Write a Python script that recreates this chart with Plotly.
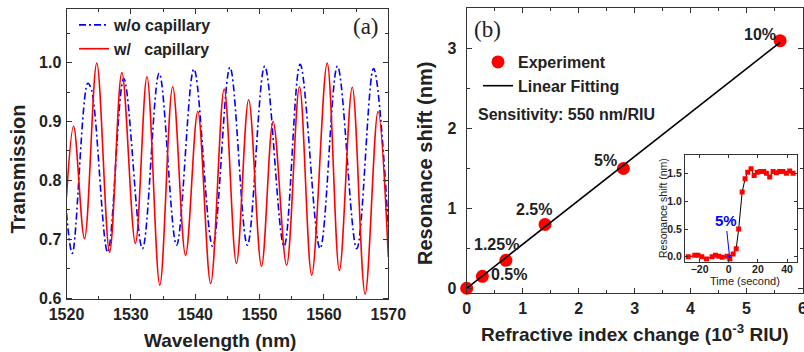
import plotly.graph_objects as go

# ---------------- Panel (a): transmission spectra (extrema)
wl_without = [1520.0, 1520.9, 1523.3, 1523.9, 1526.4, 1528.9, 1531.8, 1534.4, 1537.1, 1539.8,
              1542.7, 1545.4, 1548.1, 1550.8, 1553.8, 1556.3, 1559.4, 1562.1, 1565.1, 1567.7, 1570.0]
tr_without = [0.744, 0.676, 0.965, 0.953, 0.678, 0.973, 0.684, 0.982, 0.690, 0.989,
              0.688, 0.992, 0.690, 0.994, 0.688, 0.997, 0.684, 0.994, 0.684, 0.990, 0.721]

wl_with = [1520.0, 1521.1, 1522.8, 1524.7, 1526.7, 1528.6, 1530.7, 1532.5, 1534.5, 1536.5,
           1538.5, 1540.4, 1542.4, 1544.5, 1546.4, 1548.3, 1550.3, 1552.1, 1554.2, 1556.2,
           1558.1, 1560.5, 1562.4, 1564.4, 1566.4, 1568.4, 1570.0]
tr_with = [0.772, 0.892, 0.701, 0.999, 0.678, 0.983, 0.693, 0.976, 0.622, 0.959,
           0.673, 0.917, 0.625, 0.955, 0.659, 0.937, 0.654, 0.900, 0.656, 0.959,
           0.639, 0.999, 0.647, 0.958, 0.607, 0.917, 0.670]

# ---------------- Panel (b): resonance shift vs refractive index change
ri_change = [0.0, 0.28, 0.7, 1.4, 2.8, 5.6]          # 10^-3 RIU
res_shift = [0.0, 0.15, 0.35, 0.8, 1.5, 3.1]         # nm
conc_labels = ["", "0.5%", "1.25%", "2.5%", "5%", "10%"]
fit_x = [0.0, 5.6]
fit_y = [0.0, 3.08]

# ---------------- Inset: time response for 5%
time_s = [-27.8, -23.3, -21.2, -18.5, -15.3, -11.4, -9.1, -6.8, -4.5, -1.1, 0.7, 3.0, 5.1, 6.8,
          9.2, 11.2, 13.0, 15.3, 17.4, 19.5, 21.7, 24.0, 25.8, 28.1, 30.4, 32.7, 34.9, 37.2,
          39.5, 41.8, 44.1]
time_shift = [0.0, 0.025, 0.025, 0.0, -0.04, 0.0, 0.025, 0.01, -0.01, 0.01, -0.04, 0.05, 0.145, 0.50,
              1.17, 1.41, 1.53, 1.59, 1.47, 1.53, 1.54, 1.54, 1.51, 1.44, 1.54, 1.52, 1.54, 1.54,
              1.51, 1.55, 1.51]

W, H = 804, 352
TXT = "#222222"
AX = "#333333"
FONT = "Arial"

fig = go.Figure()

fig.add_trace(go.Scatter(x=wl_without, y=tr_without, mode="lines", name="w/o capillary",
                         line=dict(color="#0000ff", width=1.6, dash="7px,3px,2px,3px", shape="spline", smoothing=1.0),
                         xaxis="x", yaxis="y", legend="legend"))
fig.add_trace(go.Scatter(x=wl_with, y=tr_with, mode="lines", name="w/   capillary",
                         line=dict(color="#ff0000", width=1.6, shape="spline", smoothing=1.0),
                         xaxis="x", yaxis="y", legend="legend"))

fig.add_trace(go.Scatter(x=ri_change, y=res_shift, mode="markers", name="Experiment",
                         marker=dict(color="#ff0000", size=13, symbol="circle"),
                         cliponaxis=False, xaxis="x2", yaxis="y2", legend="legend2"))
fig.add_trace(go.Scatter(x=fit_x, y=fit_y, mode="lines", name="Linear Fitting",
                         line=dict(color="#000000", width=1.6),
                         xaxis="x2", yaxis="y2", legend="legend2"))

fig.add_trace(go.Scatter(x=time_s, y=time_shift, mode="lines+markers", showlegend=False,
                         line=dict(color="#000000", width=1),
                         marker=dict(color="#ff0000", size=5, symbol="square"),
                         xaxis="x3", yaxis="y3"))

def ax(**kw):
    d = dict(showline=True, linecolor=AX, linewidth=1, mirror="ticks", ticks="inside",
             ticklen=5, tickcolor=AX, tickwidth=1, showgrid=False, zeroline=False,
             automargin=False, ticklabeloverflow="allow",
             tickfont=dict(family=FONT, size=16, color=TXT, weight="bold"))
    d.update(kw)
    return d

fig.update_layout(
    template="none",
    width=W, height=H, margin=dict(l=0, r=0, t=0, b=0, autoexpand=False),
    paper_bgcolor="white", plot_bgcolor="white",
    xaxis=ax(domain=[66.5 / W, 388.3 / W], range=[1520, 1570], dtick=10, anchor="y",
             minor=dict(ticks="inside", ticklen=3, dtick=5, tickcolor=AX)),
    yaxis=ax(domain=[1 - 299.3 / H, 1 - 9 / H], range=[0.598, 1.091], dtick=0.1, tickformat=".1f",
             anchor="x", ticklabelstandoff=1,
             minor=dict(ticks="inside", ticklen=3, dtick=0.05, tickcolor=AX)),
    xaxis2=ax(domain=[466.7 / W, 802.5 / W], range=[0, 6], dtick=1, anchor="y2",
              minor=dict(ticks="inside", ticklen=3, dtick=0.5, tickcolor=AX)),
    yaxis2=ax(domain=[1 - 293.3 / H, 1 - 8.3 / H], range=[-0.063, 3.506], dtick=1, anchor="x2",
              ticklabelstandoff=6,
              minor=dict(ticks="inside", ticklen=3, dtick=0.5, tickcolor=AX)),
    xaxis3=ax(domain=[685 / W, 797.3 / W], range=[-30, 47], tickvals=[-20, 0, 20, 40], anchor="y3",
              ticklen=3, ticklabelstandoff=-2,
              tickfont=dict(family=FONT, size=10.5, color=TXT, weight="bold")),
    yaxis3=ax(domain=[1 - 261.7 / H, 1 - 155 / H], range=[-0.09, 1.84], dtick=0.5, tickformat=".1f",
              anchor="x3", ticklen=3, tickfont=dict(family=FONT, size=10.5, color=TXT, weight="bold")),
    legend=dict(x=74 / W, y=1 - 8 / H, xanchor="left", yanchor="top", bgcolor="rgba(0,0,0,0)",
                font=dict(family=FONT, size=16, color=TXT, weight="bold"), itemwidth=30,
                tracegroupgap=0, borderwidth=0),
    legend2=dict(x=478 / W, y=1 - 45 / H, xanchor="left", yanchor="top", bgcolor="rgba(0,0,0,0)",
                 font=dict(family=FONT, size=16, color=TXT, weight="bold"), itemwidth=30,
                 tracegroupgap=0, borderwidth=0),
    showlegend=True,
)

ann = []
def txt(x, y, s, size, bold=True, family=FONT, color=TXT, angle=0, xanchor="center"):
    ann.append(dict(x=x / W, y=1 - y / H, xref="paper", yref="paper", text=s, showarrow=False,
                    xanchor=xanchor, yanchor="middle", textangle=angle,
                    font=dict(family=family, size=size, color=color, weight="bold" if bold else "normal")))

txt(219.5, 340, "Wavelength (nm)", 19)
txt(17.5, 169, "Transmission", 20, angle=-90)
txt(634, 333, "Refractive index change (10<sup>-3</sup> RIU)", 19)
txt(425, 163, "Resonance shift (nm)", 20, angle=-90)
txt(366, 27, "(a)", 23, bold=False, family="Liberation Serif")
txt(487, 30, "(b)", 23, bold=False, family="Liberation Serif")
txt(476, 114.3, "Sensitivity: 550 nm/RIU", 16, xanchor="left")
txt(745, 281, "Time (second)", 11, bold=False)
txt(663, 208, "Resonance shift (nm)", 10.5, bold=False, angle=-90)

shifts = [(0, 0), (27, 2), (-9, 16), (-11, 15), (-18, 8), (-20, 6)]
for xv, yv, lab, (dx, dy) in zip(ri_change, res_shift, conc_labels, shifts):
    if lab:
        ann.append(dict(x=xv, y=yv, xref="x2", yref="y2", text=lab, showarrow=False,
                        xshift=dx, yshift=dy, font=dict(family=FONT, size=16, color=TXT, weight="bold")))

ann.append(dict(x=0.7, y=-0.04, xref="x3", yref="y3", text="5%", showarrow=True, arrowhead=2,
                arrowsize=0.8, arrowwidth=1, arrowcolor="#0000ff", ax=-4, ay=-38,
                font=dict(family=FONT, size=15, color="#0000ff", weight="bold")))

fig.update_layout(annotations=ann)

fig.write_html("out.html", config={"displayModeBar": False},
               post_script="document.body.style.margin='0';document.body.style.overflow='hidden';")
